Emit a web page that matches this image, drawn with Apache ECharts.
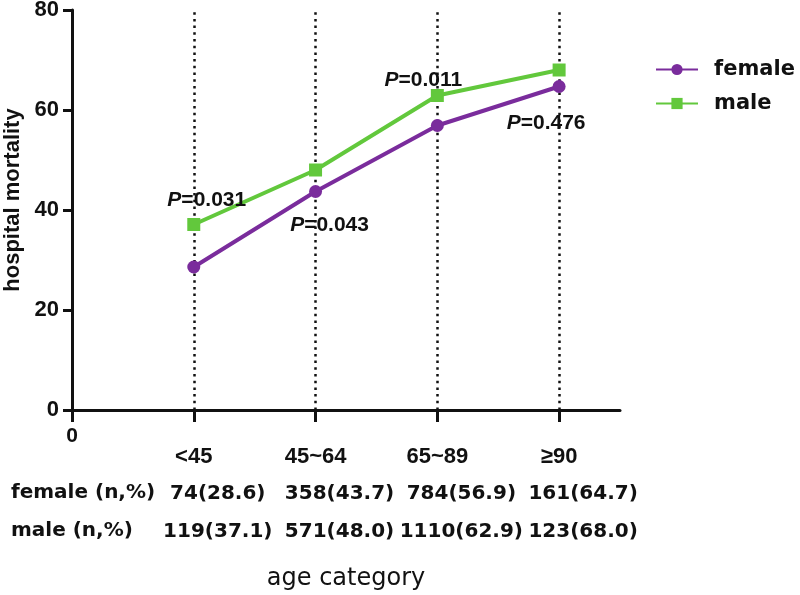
<!DOCTYPE html>
<html>
<head>
<meta charset="utf-8">
<script src="https://cdn.jsdelivr.net/npm/echarts@6/dist/echarts.min.js"></script>
<style>html,body{margin:0;padding:0;background:#fff}#chart{width:800px;height:595px}</style>
</head>
<body>
<div id="chart"></div>
<script>
const categories = ['<45', '45~64', '65~89', '≥90'];
const categoryPositions = [1, 2, 3, 4];
const femaleN = [74, 358, 784, 161];
const femaleRate = [28.6, 43.7, 56.9, 64.7];
const maleN = [119, 571, 1110, 123];
const maleRate = [37.1, 48.0, 62.9, 68.0];
const pValues = ['0.031', '0.043', '0.011', '0.476'];
const pSeries = ['male', 'female', 'male', 'female'];
const yTicks = [0, 20, 40, 60, 80];
const xTickValues = [0, 1, 2, 3, 4];
const rowHeaders = ['female (n,%)', 'male (n,%)'];

const INK = '#111';
const FEMALE = '#7a2c9c';
const MALE = '#62c83c';
const pOffsets = { 0: [13, -24], 1: [14, 34], 2: [-14, -15], 3: [-13, 37] };

function pLabel(i) {
  return {
    show: true, position: 'inside', offset: pOffsets[i],
    formatter: '{i|P}{n|=' + pValues[i] + '}',
    rich: {
      i: { fontFamily: 'Liberation Sans', fontWeight: 'bold', fontStyle: 'italic', fontSize: 21, color: INK },
      n: { fontFamily: 'Liberation Sans', fontWeight: 'bold', fontSize: 21, color: INK }
    }
  };
}
function buildData(name, rates) {
  return rates.map((v, i) => {
    const item = { value: [categoryPositions[i], v] };
    if (pSeries[i] === name) item.label = pLabel(i);
    return item;
  });
}
function rowText(ns, rates, i) { return ns[i] + '(' + rates[i].toFixed(1) + ')'; }
function idx(v) { return categoryPositions.indexOf(v); }

const chart = echarts.init(document.getElementById('chart'), null, { renderer: 'canvas' });
const tableLabelBase = {
  fontFamily: 'DejaVu Sans', fontWeight: 'bold', fontSize: 20, color: INK,
  padding: [0, 0, 0, 48], customValues: categoryPositions, hideOverlap: false
};
chart.setOption({
  animation: false,
  grid: { left: 72, right: 180, top: 10, bottom: 185, containLabel: false, outerBoundsMode: 'none' },
  legend: {
    data: ['female', 'male'], orient: 'vertical', left: 655, top: 59,
    itemWidth: 42, itemHeight: 14, itemGap: 13, padding: 0,
    textStyle: { fontFamily: 'DejaVu Sans', fontWeight: 'bold', fontSize: 21, color: INK, padding: [0, 0, 0, 11] }
  },
  xAxis: [
    {
      type: 'value', min: 0, max: 4.5, interval: 1, gridIndex: 0,
      name: 'age category', nameLocation: 'middle', nameGap: 157,
      nameTextStyle: { fontFamily: 'DejaVu Sans', fontSize: 24, color: INK },
      axisLine: { show: true, lineStyle: { color: INK, width: 3 } },
      axisTick: { show: true, length: 12, customValues: xTickValues, lineStyle: { color: INK, width: 3 } },
      splitLine: { show: false },
      axisLabel: {
        margin: 16, customValues: xTickValues, hideOverlap: false,
        fontFamily: 'Liberation Sans', fontWeight: 'bold', fontSize: 21, color: INK,
        formatter: v => v === 0 ? '0' : (idx(v) >= 0 ? '{c|' + categories[idx(v)] + '}' : ''),
        rich: { c: { fontFamily: 'Liberation Sans', fontWeight: 'bold', fontSize: 22, color: INK, padding: [20, 0, 0, 0] } }
      }
    },
    {
      type: 'value', min: 0, max: 4.5, interval: 1, gridIndex: 0, position: 'bottom',
      axisLine: { show: false }, axisTick: { show: false }, splitLine: { show: false },
      axisLabel: Object.assign({}, tableLabelBase, { margin: 74,
        formatter: v => idx(v) >= 0 ? rowText(femaleN, femaleRate, idx(v)) : '' })
    },
    {
      type: 'value', min: 0, max: 4.5, interval: 1, gridIndex: 0, position: 'bottom',
      axisLine: { show: false }, axisTick: { show: false }, splitLine: { show: false },
      axisLabel: Object.assign({}, tableLabelBase, { margin: 112,
        formatter: v => idx(v) >= 0 ? rowText(maleN, maleRate, idx(v)) : '' })
    }
  ],
  yAxis: {
    type: 'value', min: yTicks[0], max: yTicks[yTicks.length - 1], interval: 20,
    name: 'hospital mortality', nameLocation: 'middle', nameGap: 44, nameRotate: 90,
    nameTextStyle: { fontFamily: 'Liberation Sans', fontWeight: 'bold', fontSize: 22, color: INK, padding: [0, 0, 0, 20] },
    axisLine: { show: true, lineStyle: { color: INK, width: 3 } },
    axisTick: { show: true, length: 9, lineStyle: { color: INK, width: 3 } },
    splitLine: { show: false },
    axisLabel: { margin: 13, fontFamily: 'Liberation Sans', fontWeight: 'bold', fontSize: 22, color: INK }
  },
  graphic: rowHeaders.map((t, i) => ({
    type: 'text', left: 11, top: 483 + i * 38,
    style: { text: t, fontFamily: 'DejaVu Sans', fontWeight: 'bold', fontSize: 20, fill: INK }
  })),
  series: [
    {
      name: 'female', type: 'line', xAxisIndex: 0, data: buildData('female', femaleRate),
      symbol: 'circle', symbolSize: 13, itemStyle: { color: FEMALE },
      lineStyle: { color: FEMALE, width: 4 }, z: 3,
      markLine: {
        silent: true, symbol: ['none', 'none'], label: { show: false },
        lineStyle: { color: INK, width: 2.5, type: [2.5, 4.2] },
        data: categoryPositions.map(x => ({ xAxis: x })), z: 1
      }
    },
    {
      name: 'male', type: 'line', xAxisIndex: 0, data: buildData('male', maleRate),
      symbol: 'rect', symbolSize: 13, itemStyle: { color: MALE },
      lineStyle: { color: MALE, width: 4 }, z: 4
    }
  ]
});
</script>
</body>
</html>
